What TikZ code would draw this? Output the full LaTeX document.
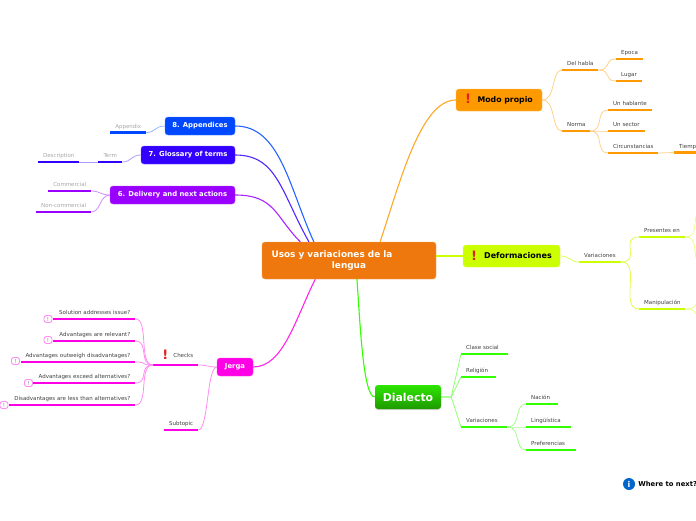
\documentclass[tikz,border=0pt]{standalone}
\usepackage{fontspec}
\setmainfont{DejaVu Sans}
\usetikzlibrary{positioning,shadows}
\definecolor{rootOrange}{HTML}{EE780E}
\definecolor{modoOrange}{HTML}{FF9900}
\definecolor{defLime}{HTML}{CCFF00}
\definecolor{dialGreen}{HTML}{33FF00}
\definecolor{jergaPink}{HTML}{FF00E6}
\definecolor{delivPurple}{HTML}{9900FF}
\definecolor{glossBlue}{HTML}{3300FF}
\definecolor{appBlue}{HTML}{0048FF}
\definecolor{alertRed}{HTML}{E0201A}
\newcommand{\alertmark}{\smash{\raisebox{-1.7pt}{\textcolor{alertRed}{\fontsize{13}{13}\selectfont\bfseries !}}}}
\begin{document}
\begin{tikzpicture}[x=1pt,y=-1pt]
    \tikzstyle{every node} = [font=\fontsize{5.5}{6}\selectfont]
    \tikzstyle{box} = [rectangle, rounded corners=3pt, inner sep=0pt, font=\fontsize{6.85}{8}\selectfont\bfseries]
    \tikzstyle{main} = [line width=1.1pt]
    \tikzstyle{twig} = [line width=0.8pt]
    \tikzset{
      topic/.style 2 args={rectangle, anchor=south west, inner xsep=0pt, inner ysep=2pt, text height=5pt, text depth=2pt,
        text width={#2pt}, text=black!75,
        append after command={(\tikzlastnode.south west) edge[line width=2.8pt, #1] (\tikzlastnode.south east)}},
      topicr/.style 2 args={topic={#1}{#2}, align=left, execute at begin node={\hspace*{5pt}}},
      topicl/.style 2 args={topic={#1}{#2}, align=right, execute at end node={\hspace*{5pt}}},
      topicc/.style 2 args={topic={#1}{#2}, align=center, text=black!35},
      warn/.style={rectangle, rounded corners=2.5pt, draw=jergaPink!45, fill=white, line width=0.9pt,
        minimum width=8pt, minimum height=7pt, inner sep=0pt, text=black!50}
    }
    \useasboundingbox (0,0) rectangle (696,520);
    % central topic
    \node[box, fill=rootOrange, draw=rootOrange!70!white, minimum width=174pt, minimum height=37pt, text=white, align=center,
      font=\fontsize{8.9}{11}\selectfont\bfseries] (root) at (349,260.5) {Usos y variaciones de la\hspace*{34pt}\\lengua};
    % main branches
    \node[box, fill=modoOrange, draw=modoOrange!70!white, minimum width=86pt, minimum height=22pt, font=\fontsize{7.8}{8}\selectfont\bfseries] (modo) at (499,100) {\alertmark\hspace{6.5pt}Modo propio};
    \node[box, fill=defLime, draw=defLime!70!white, minimum width=97pt, minimum height=22pt, font=\fontsize{8}{8}\selectfont\bfseries] (deform) at (511.5,256) {\alertmark\hspace{7pt}Deformaciones};
    \node[box, top color=dialGreen!90!black, bottom color=dialGreen!60!black, minimum width=66pt, minimum height=24pt, text=white, drop shadow={shadow xshift=0pt, shadow yshift=-1pt, opacity=0.35}, font=\fontsize{10.9}{11}\selectfont\bfseries] (dial) at (408,397) {Dialecto};
    \node[box, fill=jergaPink, draw=jergaPink!70!white, minimum width=36pt, minimum height=18pt, text=white] (jerga) at (235,367) {Jerga};
    \node[box, fill=delivPurple, draw=delivPurple!70!white, minimum width=125pt, minimum height=18pt, text=white] (deliv) at (172.5,195) {6. Delivery and next actions};
    \node[box, fill=glossBlue, draw=glossBlue!70!white, minimum width=94pt, minimum height=18pt, text=white] (gloss) at (188,155) {7. Glossary of terms};
    \node[box, fill=appBlue, draw=appBlue!70!white, minimum width=70pt, minimum height=18pt, text=white] (append) at (200,126) {8. Appendices};
    % Modo propio
    \node[topicr={modoOrange}{36}] (habla) at (562,70) {Del habla};
    \node[topicr={modoOrange}{27}] (epoca) at (616,59) {Epoca};
    \node[topicr={modoOrange}{26}] (lugar) at (616,81) {Lugar};
    \node[topicr={modoOrange}{28}] (norma) at (562,131) {Norma};
    \node[topicr={modoOrange}{44}] (hablante) at (608,110) {Un hablante};
    \node[topicr={modoOrange}{37}] (sector) at (608,131) {Un sector};
    \node[topicr={modoOrange}{50}] (circ) at (608,153) {Circunstancias};
    \node[topicr={modoOrange}{22}] (tiempo) at (674,152.5) {Tiemp};
    % Deformaciones
    \node[topicr={defLime}{42}] (varDef) at (579,262) {Variaciones};
    \node[topicr={defLime}{46}] (presentes) at (639,237) {Presentes en};
    \node[topicr={defLime}{46}] (manip) at (639,309) {Manipulación};
    \coordinate (presUp) at (696,216);
    \coordinate (presDown) at (696,258);
    \coordinate (manipUp) at (696,304);
    \coordinate (manipDown) at (696,314);
    % Dialecto
    \node[topicr={dialGreen}{47}] (clase) at (461,354) {Clase social};
    \node[topicr={dialGreen}{35}] (religion) at (461,377) {Religión};
    \node[topicr={dialGreen}{46}] (varDial) at (461,427) {Variaciones};
    \node[topicr={dialGreen}{32}] (nacion) at (526,404) {Nación};
    \node[topicr={dialGreen}{45}] (lingu) at (526,427) {Lingüística};
    \node[topicr={dialGreen}{50}] (prefer) at (526,450) {Preferencias};
    % Jerga
    \node[topicl={jergaPink}{45}] (checks) at (153,365) {\raisebox{3.5pt}{\alertmark\hspace{5pt}Checks}};
    \node[topicl={jergaPink}{34}] (subtopic) at (164,430) {Subtopic};
    \node[topicl={jergaPink}{82}] (solution) at (53,319) {Solution addresses issue?};
    \node[topicl={jergaPink}{82}] (relevant) at (53,341) {Advantages are relevant?};
    \node[topicl={jergaPink}{114}] (outweigh) at (21,362) {Advantages outweigh disadvantages?};
    \node[topicl={jergaPink}{102}] (exceed) at (33,383) {Advantages exceed alternatives?};
    \node[topicl={jergaPink}{126}] (lessThan) at (9,405) {Disadvantages are less than alternatives?};
    \node[warn] (warnA) at (48,319) {!};
    \node[warn] (warnB) at (48,340) {!};
    \node[warn] (warnC) at (15.5,361) {!};
    \node[warn] (warnD) at (28.5,383) {!};
    \node[warn] (warnE) at (4,405) {!};
    % gray leaves
    \node[topicl={delivPurple}{43}, text=black!35] (commercial) at (48,191) {Commercial};
    \node[topicl={delivPurple}{55}, text=black!35] (noncomm) at (36,212) {Non-commercial};
    \node[topicc={glossBlue}{24}] (term) at (98,162) {Term};
    \node[topicc={glossBlue}{41}] (descr) at (38,162) {Description};
    \node[topicc={appBlue}{36}] (appendix) at (110,132.5) {Appendix};
    % info note
    \node[circle, fill=appBlue!70!cyan!80!black, minimum size=12pt, inner sep=0pt, text=white, font=\fontsize{8}{8}\selectfont\bfseries] (info) at (629,484) {i};
    \node[right=1pt of info, inner sep=2pt, font=\fontsize{6.8}{8}\selectfont\bfseries] (whereNext) {Where to next?};
    % Connections
    \draw[main, appBlue!85!white] (append.east) .. controls +(45,0) and +(-25,-55) .. (root.152);
    \draw[main, glossBlue!85!white] (gloss.east) .. controls +(42,0) and +(-28,-50) .. (root.155);
    \draw[main, delivPurple!85!white] (deliv.east) .. controls +(40,0) and +(-25,-25) .. (root.159);
    \draw[main, modoOrange!85!white] (modo.west) .. controls +(-35,0) and +(20,-60) .. (root.31);
    \draw[main, defLime] (deform.west) -- (deform.west -| root.east);
    \draw[main, dialGreen] (dial.west) .. controls +(-12,0) and +(3,40) .. (root.293);
    \draw[main, jergaPink!85!white] (jerga.east) .. controls +(30,0) and +(-20,40) .. (root.209);
    % Connections inside the branches
    \foreach \from/\to in {modo.east/habla.south west, modo.east/norma.south west}
      \draw[twig, modoOrange!45] (\from) .. controls +(14,0) and +(-11,0) .. (\to);
    \foreach \from/\to in {habla.south east/epoca.south west, habla.south east/lugar.south west, norma.south east/hablante.south west, norma.south east/sector.south west, norma.south east/circ.south west}
      \draw[twig, modoOrange!45] (\from) .. controls +(14,0) and +(-13,0) .. (\to);
    \draw[twig, modoOrange!45] (circ.south east) -- (tiempo.south west);
    \draw[twig, defLime!70] (deform.east) .. controls +(10,0) and +(-9,0) .. (varDef.south west);
    \foreach \to in {presentes, manip}
      \draw[twig, defLime!70] (varDef.south east) .. controls +(20,0) and +(-20,0) .. (\to.south west);
    \draw[twig, defLime!45] (presentes.south east) .. controls +(11,0) and +(-2,9) .. (presUp);
    \draw[twig, defLime!45] (presentes.south east) .. controls +(11,0) and +(-2,-9) .. (presDown);
    \draw[twig, defLime!45] (manip.south east) .. controls +(10,0) and +(-2,2) .. (manipUp);
    \draw[twig, defLime!45] (manip.south east) .. controls +(10,0) and +(-2,-2) .. (manipDown);
    \foreach \to in {clase, religion, varDial}
      \draw[twig, dialGreen!55] (dial.east) -- +(10,0) -- (\to.south west);
    \foreach \to in {nacion, lingu, prefer}
      \draw[twig, dialGreen!45] (varDial.south east) .. controls +(14,0) and +(-12,0) .. (\to.south west);
    \foreach \to in {checks, subtopic}
      \draw[twig, jergaPink!45] (jerga.west) .. controls +(-10,0) and +(10,0) .. (\to.south east);
    \foreach \to in {solution, relevant, outweigh, exceed, lessThan}
      \draw[twig, jergaPink!45] (checks.south west) .. controls +(-15,0) and +(14,0) .. (\to.south east);
    \draw[twig, delivPurple!45] (deliv.west) .. controls +(-10,0) and +(9,0) .. (commercial.south east);
    \draw[twig, delivPurple!45] (deliv.west) .. controls +(-10,0) and +(9,0) .. (noncomm.south east);
    \draw[twig, glossBlue!40] (gloss.west) .. controls +(-10,0) and +(9,0) .. (term.south east);
    \draw[twig, glossBlue!40] (term.south west) -- (descr.south east);
    \draw[twig, appBlue!40] (append.west) .. controls +(-10,0) and +(9,0) .. (appendix.south east);
  \end{tikzpicture}
\end{document}
